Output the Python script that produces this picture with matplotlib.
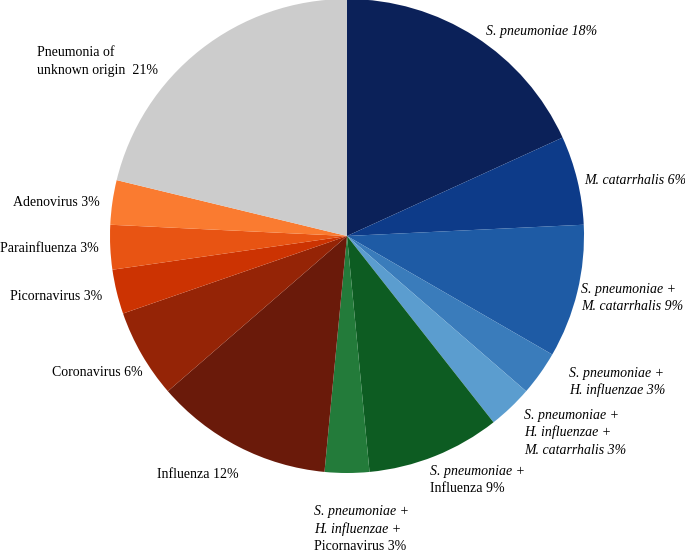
import matplotlib.pyplot as plt

# slices clockwise from 12 o'clock
labels = [
    'S. pneumoniae', 'M. catarrhalis', 'S. pneumoniae + M. catarrhalis',
    'S. pneumoniae + H. influenzae', 'S. pneumoniae + H. influenzae + M. catarrhalis',
    'S. pneumoniae + Influenza', 'S. pneumoniae + H. influenzae + Picornavirus',
    'Influenza', 'Coronavirus', 'Picornavirus', 'Parainfluenza', 'Adenovirus',
    'Pneumonia of unknown origin',
]
shares = [18, 6, 9, 3, 3, 9, 3, 12, 6, 3, 3, 3, 21]
colors = ['#0b2159', '#0d3b89', '#1e5ba5', '#3a7cbb', '#5b9dcf',
          '#0d5c22', '#237b3a', '#6a1a0a', '#952406', '#cc3302',
          '#e85413', '#fa7b30', '#cccccc']

# label text, one entry per line: (text, italic)
label_lines = [
    [('S. pneumoniae 18%', True)],
    [('M. catarrhalis 6%', True)],
    [('S. pneumoniae +', True), ('M. catarrhalis 9%', True)],
    [('S. pneumoniae +', True), ('H. influenzae 3%', True)],
    [('S. pneumoniae +', True), ('H. influenzae +', True), ('M. catarrhalis 3%', True)],
    [('S. pneumoniae +', True), ('Influenza 9%', False)],
    [('S. pneumoniae +', True), ('H. influenzae +', True), ('Picornavirus 3%', False)],
    [('Influenza 12%', False)],
    [('Coronavirus 6%', False)],
    [('Picornavirus 3%', False)],
    [('Parainfluenza 3%', False)],
    [('Adenovirus 3%', False)],
    [('Pneumonia of', False), ('unknown origin  21%', False)],
]
# left edge / first-line centre of each label block (pixels, from top-left)
label_pos = [(486, 31), (584, 180), (581, 289), (569, 373), (524, 415),
             (430, 471), (314, 512), (157, 474), (52, 373), (10, 297),
             (0, 249), (13, 203), (37, 53)]

W, H = 685, 552
fig = plt.figure(figsize=(W / 100, H / 100), dpi=100)
ax = fig.add_axes([0, 0, 1, 1])

ax.pie(shares, colors=colors, startangle=90, counterclock=False,
       center=(347, H - 236), radius=237, wedgeprops=dict(linewidth=0))
ax.set_xlim(0, W)
ax.set_ylim(0, H)
ax.set_aspect('equal')
ax.axis('off')

line_h = 17.5
for lines, (x, y) in zip(label_lines, label_pos):
    for i, (txt, it) in enumerate(lines):
        ax.text(x, H - (y + i * line_h), txt, family='Liberation Serif',
                style='italic' if it else 'normal', fontsize=10,
                ha='left', va='center', color='black')

fig.savefig('out.png', dpi=100)
